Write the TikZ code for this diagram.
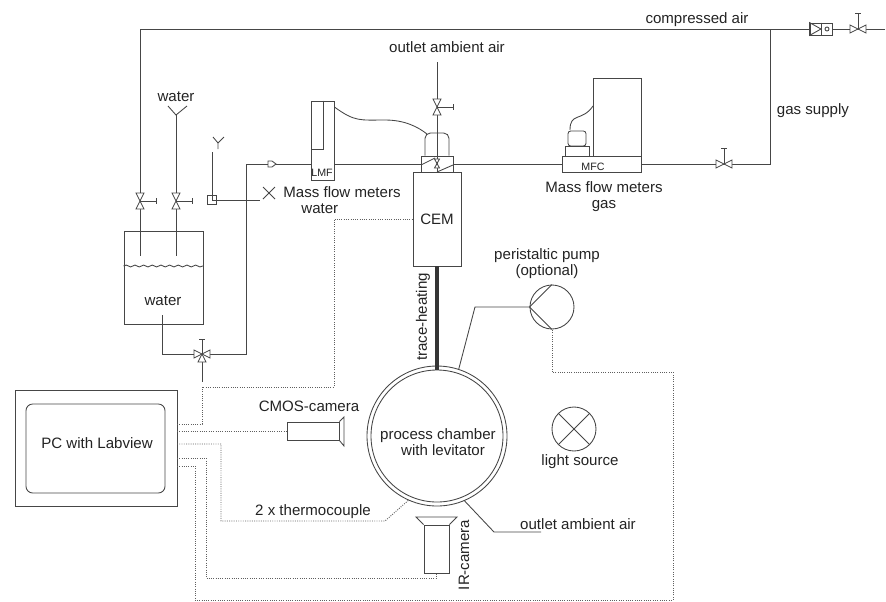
\documentclass[tikz,border=0pt]{standalone}
\usepackage{fontspec}
\setmainfont{Liberation Sans}
\usetikzlibrary{arrows.meta,positioning,calc,decorations.pathmorphing}
\definecolor{rigLine}{RGB}{70,70,70}
\definecolor{rigText}{RGB}{35,35,35}
\definecolor{rigWire}{RGB}{95,95,95}
\newcommand{\px}{0.75pt}
\newcommand{\rigfont}{\fontsize{11.3}{12}\selectfont}

\begin{document}
\begin{tikzpicture}[x=0.75pt,y=-0.75pt,
    line width=0.65pt,
    box/.style={draw=rigLine,inner sep=0pt,font=\rigfont,text=rigText},
    pipe/.style={draw=rigLine},
    wire/.style={draw=rigWire,densely dotted,line width=0.7pt},
    lbl/.style={font=\rigfont,text=rigText,inner sep=0pt,align=center},
    tiny/.style={font=\fontsize{8}{9}\selectfont,text=rigText,inner sep=0pt},
    valve/.pic={
      \draw[pipe,fill=white] (-4,-8) -- (4,-8) -- (-4,8) -- (4,8) -- cycle;
      \draw[pipe] (0,0) -- (16,0) (16,-3) -- (16,3);
    },
    threeway/.pic={
      \draw[pipe,fill=white] (-8,-4) -- (-8,4) -- (8,-4) -- (8,4) -- cycle;
      \draw[pipe,fill=white] (0,0) -- (-4,8) -- (4,8) -- cycle;
      \draw[pipe] (0,0) -- (0,-15) (-3,-15) -- (3,-15);
    }]
    \useasboundingbox (0,0) rectangle (886,601);

    % Compressed air
    \coordinate (airL) at (140,29);
    \coordinate (airR) at (885,29);
    \coordinate (junc) at (770,29);
    \coordinate (gasR) at (770,164);
    \coordinate (feedA) at (140,256);
    \coordinate (feedB) at (176,256);
    \coordinate (inB) at (176,115);
    \draw[pipe] (airR) -- (airL) -- (feedA);
    \draw[pipe] (inB) -- (feedB);
    \draw[pipe] (168,106) -- (inB) -- (187,106);
    \node[lbl] (lblAir) at (697,20) {compressed air};
    \node[lbl] (lblGas) at (813,111) {gas supply};
    \node[lbl] (lblWaterIn) at (176,97) {water};
    \pic at (140,201) {valve};
    \pic at (176,201) {valve};
    \pic[rotate=90] at (858,29) {valve};
    \node[box,fill=white,minimum width=22*\px,minimum height=12*\px] (filter) at (821,29) {};
    \draw[pipe] (filter.north) -- (filter.south);
    \draw[pipe] (filter.north west) -- (filter.center) -- (filter.south west) -- cycle;
    \node[box,circle,minimum size=4*\px] (filterDot) at (827,29) {};

    % Tank
    \node[box,minimum width=79*\px,minimum height=93*\px] (tank) at (163.5,277.5) {};
    \draw[pipe,decorate,decoration={snake,amplitude=0.7pt,segment length=6.5pt}]
      (tank.west|-0,266) -- (tank.east|-0,266);
    \node[lbl] (lblTank) at (163,301) {water};
    \coordinate (outlet) at (162,315);
    \coordinate (mix) at (202,354);
    \coordinate (mixLow) at (202,382);
    \coordinate (riserB) at (246,354);
    \coordinate (riserT) at (246,164);
    \draw[pipe] (outlet) -- (outlet|-mix) -- (mix);
    \draw[pipe] (mix) -- (riserB) -- (riserT);
    \draw[pipe] (mix) -- (mixLow);
    \pic at (mix) {threeway};

    % Water sensor
    \node[box,minimum size=9*\px] (sensor) at (212,200) {};
    \coordinate (sensorTop) at (212,152);
    \coordinate (sensorEnd) at (260,200);
    \draw[pipe] (sensorTop) -- (sensor.center) -- (sensorEnd);
    \draw[pipe] (213,137) -- (218,143) -- (224,137) (218,143) -- (218,149);
    \draw[pipe] (263,187) -- (275,199) (275,187) -- (263,199);

    % Mass flow meters water
    \node[box,fill=white,minimum width=23*\px,minimum height=79*\px] (lmf) at (322.5,140.5) {};
    \node[tiny] (lblLmf) at (322,173) {LMF};
    \draw[pipe] (lmf.north-|323,0) -- (323,149) -- (lmf.west|-0,149);
    \node[lbl,align=left] (lblLmfName) at (342,200) {Mass flow meters\\\hspace*{13.5pt}water};
    \draw[pipe] (riserT) -- (lmf.west|-riserT);
    \draw[pipe,fill=white] (268,161) -- (272,161) -- (276,164) -- (272,167) -- (268,167) -- cycle;

    % CEM
    \node[box,minimum width=48*\px,minimum height=94*\px] (cem) at (437,219) {CEM};
    \node[box,fill=white,minimum width=32*\px,minimum height=16*\px] (cap) at (437,164) {};
    \draw[pipe,rounded corners=4pt] (cap.north-|425,0) -- (425,133) -- (449,133) -- (cap.north-|449,0);
    \coordinate (outAmb) at (437,62);
    \draw[pipe] (outAmb) -- (cap.south);
    \draw[pipe] (421,165) -- (435,158) (437,172) -- (453,165);
    \draw[pipe,fill=white] (434.5,159) -- (439.5,159) -- (434.5,168) -- (439.5,168) -- cycle;
    \pic at (437,107) {valve};
    \node[lbl] (lblOut) at (447,47) {outlet ambient air};
    \draw[pipe] (lmf.east|-cap) -- (cap.west);
    \draw[pipe] (lmf.east|-0,107) .. controls (355,122) and (360,120) .. (385,120)
      .. controls (405,120) and (418,127) .. (427,134);

    % Mass flow meters gas
    \node[box,fill=white,minimum width=79*\px,minimum height=16*\px] (mfc) at (601.5,164) {};
    \node[tiny] (lblMfc) at (593,167) {MFC};
    \node[box,minimum width=48*\px,minimum height=78*\px] (mfcTall) at (617,117) {};
    \node[box,minimum width=24*\px,minimum height=10*\px] (mfcBase) at (577,151) {};
    \node[box,minimum width=18*\px,minimum height=15*\px,rounded corners=2pt] (mfcHead) at (577,138.5) {};
    \draw[pipe] (570,130) .. controls (570,112) and (582,122) .. (593,106);
    \node[lbl] (lblMfcName) at (604,197) {Mass flow meters\\gas};
    \draw[pipe] (cap.east) -- (mfc.west);
    \draw[pipe] (mfc.east) -- (gasR) -- (junc);
    \pic[rotate=90] at (724,164) {valve};

    % Process chamber
    \node[box,circle,minimum size=140*\px] (chamber) at (437,436) {};
    \node[box,circle,minimum size=132*\px] (chamberIn) at (437,436) {};
    \node[lbl] (lblChamber) at (438,442) {process chamber\\\hspace*{7.5pt}with levitator};
    \draw[draw=rigLine!75!black,line width=3.6pt] (cem.south) -- (chamberIn.north);
    \node[lbl,rotate=90] (lblTrace) at (423,317) {trace-heating};

    % Pump
    \node[box,circle,minimum size=44*\px] (pump) at (552,307) {};
    \node[lbl] (lblPump) at (547,264) {peristaltic pump\\(optional)};
    \coordinate (pumpKnee) at (475,307);
    \draw[pipe] (pump.north) -- (pump.west) -- (pump.south);
    \draw[pipe] (pump.west) -- (pumpKnee) -- (chamber.72);

    % Light source
    \node[box,circle,minimum size=44*\px] (light) at (574,429) {};
    \draw[pipe] (light.45) -- (light.225) (light.135) -- (light.315);
    \node[lbl] (lblLight) at (580,462) {light source};

    % Outlet ambient air
    \coordinate (outKnee) at (494,532);
    \coordinate (outEnd) at (541,532);
    \draw[pipe] (chamber.-67) -- (outKnee) -- (outEnd);
    \node[lbl] (lblOutlet) at (578,524) {outlet ambient air};

    % Cameras
    \node[box,minimum width=52*\px,minimum height=18*\px] (cmos) at (313,431) {};
    \node[box,minimum width=25*\px,minimum height=48*\px] (ir) at (436.5,549) {};
    \draw[pipe] (cmos.north east) -- (344,417) -- (344,446) -- (cmos.south east);
    \draw[pipe] (ir.north west) -- (416,517) -- (457,517) -- (ir.north east);
    \node[lbl] (lblCmos) at (309,406) {CMOS-camera};
    \node[lbl,rotate=90] (lblIr) at (464,555) {IR-camera};

    % PC and signal lines
    \node[box,minimum width=162*\px,minimum height=116*\px] (pc) at (96,448) {};
    \node[box,rounded corners=5pt,minimum width=139*\px,minimum height=89*\px] (pcIn) at (95.5,448.5) {};
    \node[lbl] (lblPc) at (97,443) {PC with Labview};
    \coordinate (sigA) at (177,424);
    \coordinate (sigB) at (177,431);
    \coordinate (sigC) at (177,444);
    \coordinate (sigD) at (177,458);
    \coordinate (sigE) at (177,466);
    \coordinate (bendA) at (202,387);
    \coordinate (bendA2) at (334,219);
    \coordinate (bendC) at (385,521);
    \coordinate (bendE) at (673,372);
    \draw[wire] (sigA) -- (sigA-|bendA) -- (bendA) -- (bendA-|bendA2) -- (bendA2) -- (cem.west);
    \draw[wire] (sigB) -- (cmos.west);
    \draw[wire] (sigC) -- (221,444) -- (221,521) -- (bendC) -- (chamber.-114);
    \draw[wire] (sigD) -- (206,458) -- (206,578) -- (ir.south|-0,578) -- (ir.south);
    \draw[wire] (sigE) -- (195,466) -- (195,600) -- (673,600) -- (bendE) -- (bendE-|pump) -- (pump.south);
    \node[lbl] (lblTc) at (313,512) {2 x thermocouple};
\end{tikzpicture}
\end{document}
